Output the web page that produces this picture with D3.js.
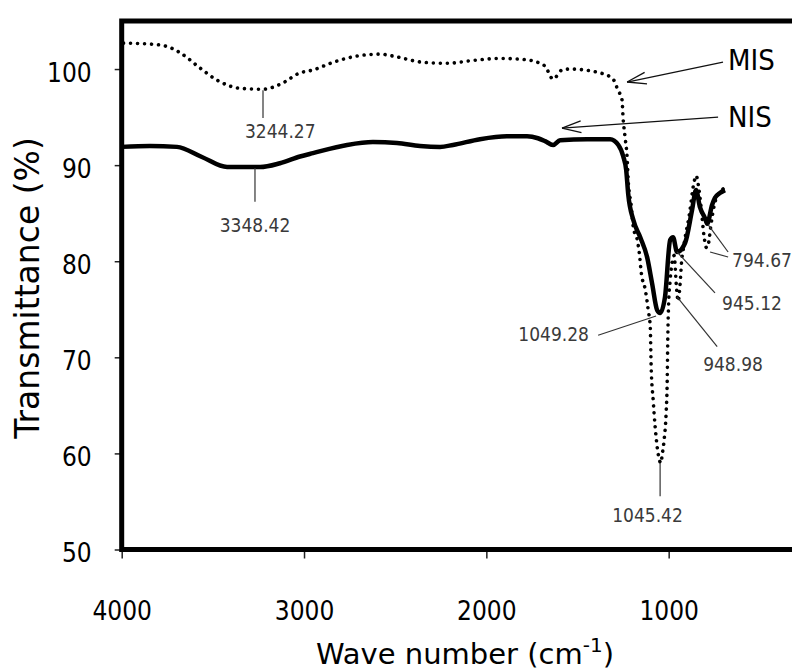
<!DOCTYPE html>
<html><head><meta charset="utf-8">
<script src="https://cdn.jsdelivr.net/npm/d3@7"></script>
<style>body{margin:0;background:#fff} svg{display:block}</style>
</head><body>
<svg id="chart" width="792" height="672"></svg>
<script>
// ---- data ----
const nisWave = [4000,3845,3697,3560,3422,3241,3132,3022,2951,2764,2622,2490,2364,2254,2183,2035,1887,1777,1717,1678,1634,1595,1447,1321,1276,1249,1233,1222,1194,1156,1118,1091,1063,1047,1020,992,976,954,910,872,850,828,801,789,762,746,719,691];
const nisT    = [91.9,92.0,91.9,90.85,89.8,89.8,90.2,90.9,91.25,92.1,92.4,92.3,92.0,91.9,92.1,92.7,93.0,93.0,92.8,92.5,92.1,92.6,92.7,92.7,92.1,90.9,89.5,87.0,84.3,82.5,80.4,77.7,74.9,74.6,76.3,82.2,82.5,80.95,81.9,85.3,87.4,85.6,84.5,83.9,85.85,86.6,87.1,87.4];
const misWave = [3990,3845,3762,3680,3570,3477,3351,3225,3132,3022,2951,2841,2710,2583,2512,2347,2216,2073,1926,1800,1706,1678,1634,1585,1541,1377,1305,1278,1256,1250,1239,1228,1222,1206,1194,1172,1161,1150,1128,1112,1101,1096,1085,1074,1058,1042,1036,1025,1014,1008,1005,1001,992,980,970,958,948,938,929,918,887,860,849,838,822,806,792,780,772,750,723,695];
const misT    = [102.7,102.6,102.4,101.7,100.1,98.85,98.0,97.9,98.4,99.6,99.9,100.7,101.35,101.55,101.35,100.7,100.6,100.9,101.1,101.0,100.6,100.3,98.95,99.9,100.0,99.6,98.95,97.8,96.8,94.9,92.9,90.8,88.45,85.85,83.55,82.2,80.85,78.75,77.0,74.9,73.15,69.0,65.55,62.75,60.0,59.0,59.8,61.4,64.2,67.6,71.8,75.2,78.0,80.0,80.6,77.5,75.85,77.5,80.0,81.5,84.8,88.3,88.9,88.0,85.6,82.6,81.4,82.0,83.2,85.85,87.1,87.6];
const yTicks = [50,60,70,80,90,100];
const xTicks = [4000,3000,2000,1000];
const seriesNames = ["MIS","NIS"];
const peakLabels = [
  {text:"3244.27", leaders:[[[3225,97.8],[3225,94.9]]], at:[3324,92.8], anchor:"start"},
  {text:"3348.42", leaders:[[[3269,89.7],[3269,86.2]]], at:[3269,83.05], anchor:"middle"},
  {text:"1045.42", leaders:[[[1047,59.0],[1047,55.55]]], at:[1310,52.86], anchor:"start"},
  {text:"1049.28", leaders:[[[1069,74.3],[1387,72.3]]], at:[1437,71.7], anchor:"end"},
  {text:"945.12",  leaders:[[[954,80.96],[746,76.7]]], at:[707,74.9], anchor:"start"},
  {text:"948.98",  leaders:[[[954,76.3],[734,71.1]]], at:[811,68.6], anchor:"start"},
  {text:"794.67",  leaders:[[[784,83.8],[674,80.96]],[[773,80.96],[674,80.44]]], at:[652,79.4], anchor:"start"}
];
const legendArrows = [
  {name:"MIS", tail:[702,100.73], tip:[1228,98.65], label:[674,99.9]},
  {name:"NIS", tail:[729,95.0],  tip:[1585,93.86], label:[674,93.96]}
];

// ---- chart ----
const svg = d3.select("#chart");
const x = d3.scaleLinear().domain([4000,0]).range([121.7, 851]);
const y = d3.scaleLinear().domain([50,105]).range([549.5, 21]);

const tickFont = "'DejaVu Sans Condensed','DejaVu Sans',sans-serif";

const gy = svg.append("g").attr("transform",`translate(${x(4000)},0)`)
  .call(d3.axisLeft(y).tickValues(yTicks).tickSize(7).tickPadding(23).tickFormat(d3.format("d")));
gy.select(".domain").remove();
gy.selectAll(".tick line").attr("stroke","#222").attr("stroke-width",1.5);
gy.selectAll(".tick text").attr("font-family",tickFont).attr("font-stretch","condensed")
  .attr("font-size",26).attr("fill","#000").attr("dy","0.48em");

const gx = svg.append("g").attr("transform",`translate(0,${y(50)})`)
  .call(d3.axisBottom(x).tickValues(xTicks).tickSize(9).tickFormat(d3.format("d")));
gx.select(".domain").remove();
gx.selectAll(".tick line").attr("stroke","#222").attr("stroke-width",1.5);
gx.selectAll(".tick text").attr("font-family",tickFont).attr("font-stretch","condensed")
  .attr("font-size",26).attr("fill","#000").attr("y",70.5).attr("dy",0);

// frame
svg.append("rect")
  .attr("x",x(4000)).attr("y",y(105))
  .attr("width",x(0)-x(4000)).attr("height",y(50)-y(105))
  .attr("fill","none").attr("stroke","#000").attr("stroke-width",5);

// series
const line = d3.line().x(d=>x(d[0])).y(d=>y(d[1])).curve(d3.curveMonotoneX);
const misData = misWave.map((w,i)=>[w,misT[i]]);
const nisData = nisWave.map((w,i)=>[w,nisT[i]]);

svg.append("path").datum(misData).attr("d",line)
  .attr("fill","none").attr("stroke","#000").attr("stroke-width",3.6)
  .attr("stroke-linecap","round").attr("stroke-dasharray","0.01 7");
svg.append("path").datum(nisData).attr("d",line)
  .attr("fill","none").attr("stroke","#000").attr("stroke-width",4.5)
  .attr("stroke-linejoin","round");

// peak annotations
const ann = svg.append("g");
peakLabels.forEach(p=>{
  p.leaders.forEach(l=>{
    ann.append("line")
      .attr("x1",x(l[0][0])).attr("y1",y(l[0][1]))
      .attr("x2",x(l[1][0])).attr("y2",y(l[1][1]))
      .attr("stroke","#333").attr("stroke-width",1.2);
  });
  ann.append("text").attr("x",x(p.at[0])).attr("y",y(p.at[1]))
    .attr("text-anchor",p.anchor).attr("font-family",tickFont).attr("font-stretch","condensed")
    .attr("font-size",19).attr("fill","#3a3a3a").text(p.text);
});

// legend arrows
legendArrows.forEach(a=>{
  const tx=x(a.tail[0]), ty=y(a.tail[1]), px=x(a.tip[0]), py=y(a.tip[1]);
  svg.append("line").attr("x1",tx).attr("y1",ty).attr("x2",px).attr("y2",py)
    .attr("stroke","#111").attr("stroke-width",1.3);
  const ang = Math.atan2(ty-py, tx-px);
  [-0.3,0.3].forEach(da=>{
    svg.append("line").attr("x1",px).attr("y1",py)
      .attr("x2",px+20*Math.cos(ang+da)).attr("y2",py+20*Math.sin(ang+da))
      .attr("stroke","#111").attr("stroke-width",1.3);
  });
  svg.append("text").attr("x",x(a.label[0])).attr("y",y(a.label[1]))
    .attr("font-family",tickFont).attr("font-stretch","condensed")
    .attr("font-size",29).attr("fill","#000").text(a.name);
});

// axis titles
const xt = svg.append("text").attr("x",465).attr("y",664).attr("text-anchor","middle")
  .attr("font-family","'DejaVu Sans',sans-serif").attr("font-size",29).attr("fill","#000");
xt.append("tspan").text("Wave number (cm");
xt.append("tspan").attr("font-size",20).attr("dy",-12).text("-1");
xt.append("tspan").attr("dy",12).text(")");

svg.append("text").attr("transform","translate(39,288) rotate(-90)").attr("text-anchor","middle")
  .attr("font-family","'DejaVu Sans',sans-serif").attr("font-size",33).attr("fill","#000")
  .text("Transmittance (%)");
</script>
</body></html>
